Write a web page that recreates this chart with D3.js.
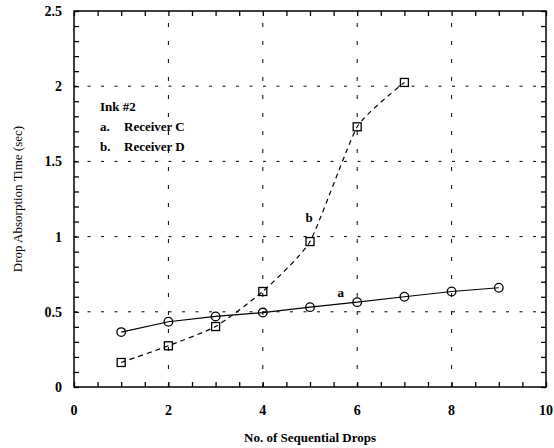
<!DOCTYPE html>
<html><head><meta charset="utf-8">
<script src="https://cdn.jsdelivr.net/npm/d3@7"></script>
<style>body{margin:0;background:#fff}svg{display:block}</style>
</head><body><svg id="c" width="554" height="448"></svg>
<script>
const xA = [1,2,3,4,5,6,7,8,9];
const yA = [0.365,0.434,0.469,0.495,0.531,0.564,0.600,0.635,0.660];
const xB = [1,2,3,4,5,6,7];
const yB = [0.163,0.274,0.402,0.635,0.967,1.73,2.025];
const xTicks = [0,2,4,6,8,10];
const yTicks = [0,0.5,1,1.5,2,2.5];
const legendLines = ["Ink #2","a.","Receiver C","b.","Receiver D"];
const FONT = "'Liberation Serif', 'Times New Roman', Times, serif";

const svg = d3.select("#c").attr("font-family",FONT);
const L=74,R=546,T=11,B=387;
const x = d3.scaleLinear().domain([0,10]).range([L,R]);
const y = d3.scaleLinear().domain([0,2.5]).range([B,T]);

// grid
const g = svg.append("g");
g.selectAll(".gx").data(xTicks.filter(d=>d>0&&d<10)).enter().append("line")
 .attr("x1",d=>x(d)).attr("x2",d=>x(d)).attr("y1",B).attr("y2",T)
 .attr("stroke","#000").attr("stroke-width",1).attr("stroke-dasharray","4,14");
g.selectAll(".gy").data(yTicks.filter(d=>d>0&&d<2.5)).enter().append("line")
 .attr("x1",L).attr("x2",R).attr("y1",d=>y(d)).attr("y2",d=>y(d))
 .attr("stroke","#000").attr("stroke-width",1).attr("stroke-dasharray","3,10.5");

// axes with inward ticks
const xMinor = d3.range(0,10.01,0.5);
const yMinor = d3.range(0,2.501,0.1);
const tl = 5;
svg.append("g").attr("transform",`translate(0,${B})`)
 .call(d3.axisBottom(x).tickValues(xMinor).tickSize(-tl).tickFormat(""))
 .call(a=>{a.select(".domain").remove();});
svg.append("g").attr("transform",`translate(0,${T})`)
 .call(d3.axisTop(x).tickValues(xMinor).tickSize(-tl).tickFormat(""))
 .call(a=>{a.select(".domain").remove();});
svg.append("g").attr("transform",`translate(${L},0)`)
 .call(d3.axisLeft(y).tickValues(yMinor).tickSize(-tl).tickFormat(""))
 .call(a=>{a.select(".domain").remove();});
svg.append("g").attr("transform",`translate(${R},0)`)
 .call(d3.axisRight(y).tickValues(yMinor).tickSize(-tl).tickFormat(""))
 .call(a=>{a.select(".domain").remove();});
svg.selectAll(".tick line").attr("stroke","#000").attr("stroke-width",1.3);
svg.append("rect").attr("x",L).attr("y",T).attr("width",R-L).attr("height",B-T)
 .attr("fill","none").attr("stroke","#000").attr("stroke-width",1.5);

// tick labels
svg.append("g").selectAll("text").data(xTicks).enter().append("text")
 .attr("font-family",FONT).attr("fill","#000")
 .attr("x",d=>x(d)).attr("y",B+28).attr("text-anchor","middle")
 .attr("font-size",14).attr("font-weight","bold").text(d=>d);
svg.append("g").selectAll("text").data(yTicks).enter().append("text")
 .attr("font-family",FONT).attr("fill","#000")
 .attr("x",L-12).attr("y",d=>y(d)+5).attr("text-anchor","end")
 .attr("font-size",14).attr("font-weight","bold").text(d=>d);

// axis titles
svg.append("text").attr("font-family",FONT).attr("fill","#000").attr("x",(L+R)/2).attr("y",442).attr("text-anchor","middle")
 .attr("font-size",13).attr("font-weight","bold").text("No. of Sequential Drops");
svg.append("text").attr("font-family",FONT).attr("fill","#000").attr("transform",`translate(22,${(T+B)/2}) rotate(-90)`)
 .attr("text-anchor","middle").attr("font-size",13).text("Drop Absorption Time (sec)");

// series
const A = xA.map((d,i)=>[d,yA[i]]);
const Bd = xB.map((d,i)=>[d,yB[i]]);
svg.append("path").datum(A).attr("fill","none").attr("stroke","#000").attr("stroke-width",1.2)
 .attr("d",d3.line().x(d=>x(d[0])).y(d=>y(d[1])));
svg.append("path").datum(Bd).attr("fill","none").attr("stroke","#000").attr("stroke-width",1.2)
 .attr("stroke-dasharray","5,4")
 .attr("d",d3.line().x(d=>x(d[0])).y(d=>y(d[1])).curve(d3.curveCardinal.tension(0.5)));
svg.append("g").selectAll("circle").data(A).enter().append("circle")
 .attr("cx",d=>x(d[0])).attr("cy",d=>y(d[1])).attr("r",4.3)
 .attr("fill","none").attr("stroke","#000").attr("stroke-width",1.3);
svg.append("g").selectAll("rect").data(Bd).enter().append("rect")
 .attr("x",d=>x(d[0])-4).attr("y",d=>y(d[1])-4).attr("width",8).attr("height",8)
 .attr("fill","none").attr("stroke","#000").attr("stroke-width",1.3);

// labels
svg.append("text").attr("font-family",FONT).attr("fill","#000").attr("x",x(5.65)).attr("y",y(0.6)).attr("font-size",13)
 .attr("font-weight","bold").attr("text-anchor","middle").text("a");
svg.append("text").attr("font-family",FONT).attr("fill","#000").attr("x",x(4.98)).attr("y",y(1.1)).attr("font-size",13)
 .attr("font-weight","bold").attr("text-anchor","middle").text("b");

// legend
const lg = svg.append("g").attr("font-size",13).attr("font-weight","bold").attr("font-family",FONT).attr("fill","#000");
lg.append("text").attr("x",100).attr("y",111).text(legendLines[0]);
lg.append("text").attr("x",100).attr("y",131).text(legendLines[1]);
lg.append("text").attr("x",124).attr("y",131).text(legendLines[2]);
lg.append("text").attr("x",100).attr("y",151).text(legendLines[3]);
lg.append("text").attr("x",124).attr("y",151).text(legendLines[4]);
</script></body></html>
